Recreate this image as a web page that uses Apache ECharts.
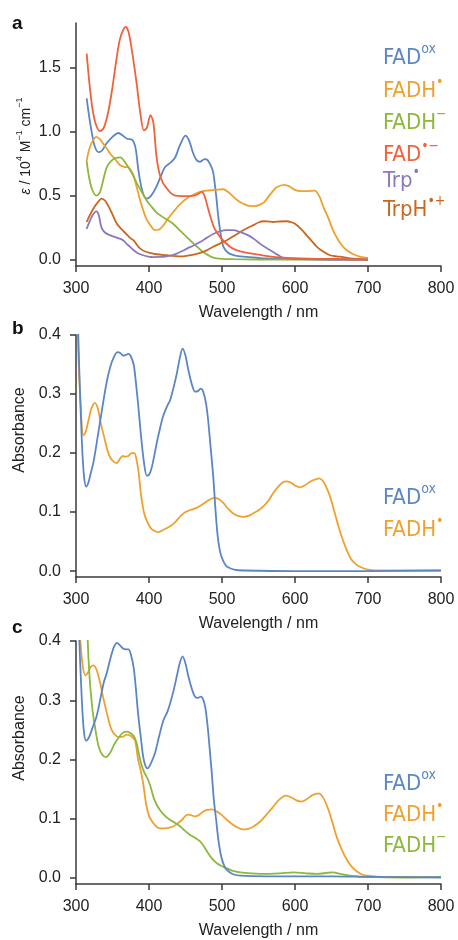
<!DOCTYPE html>
<html>
<head>
<meta charset="utf-8">
<script src="https://cdn.jsdelivr.net/npm/echarts@6/dist/echarts.min.js"></script>
<style>
html,body{margin:0;padding:0;background:#fff;}
#chart{width:458px;height:940px;}
</style>
</head>
<body>
<div id="chart"></div>
<script>
// ---------- data (wavelength nm, value) ----------
const xTicks = [300, 400, 500, 600, 700, 800];
const yTicksA = [0, 0.5, 1.0, 1.5];
const yTicksBC = [0, 0.1, 0.2, 0.3, 0.4];

// panel a : epsilon / 10^4 M^-1 cm^-1
const fadOxA = [[314.6,1.26],[318,1.12],[322,0.98],[326,0.88],[331,0.84],[336,0.855],[342,0.91],[350,0.96],[358,0.99],[364,0.97],[370,0.945],[376,0.94],[379,0.92],[382,0.86],[385,0.72],[389,0.58],[393,0.5],[397,0.477],[403,0.5],[410,0.568],[416,0.65],[422,0.724],[430,0.76],[436,0.8],[442,0.89],[450,0.97],[455,0.93],[460,0.84],[465,0.78],[470,0.765],[476,0.785],[480,0.78],[485,0.73],[488,0.68],[492,0.5],[495,0.33],[499,0.17],[502,0.1],[507,0.06],[511,0.045],[520,0.03],[538,0.02],[560,0.01],[600,0.003],[650,0.001],[700,0]];
const fadhRadA = [[314.6,0.77],[318,0.86],[323,0.93],[328,0.96],[333,0.94],[338,0.9],[342,0.87],[348,0.82],[353,0.79],[360,0.74],[366,0.725],[372,0.72],[378,0.67],[383,0.57],[388,0.46],[393,0.37],[397,0.31],[403,0.26],[408,0.23],[414,0.235],[420,0.27],[426,0.32],[433,0.37],[442,0.43],[452,0.48],[462,0.51],[470,0.53],[479,0.54],[490,0.545],[502,0.55],[508,0.53],[514,0.5],[522,0.46],[530,0.435],[537,0.42],[545,0.418],[552,0.43],[558,0.45],[566,0.51],[575,0.565],[586,0.585],[593,0.57],[600,0.545],[608,0.535],[616,0.535],[627,0.54],[633,0.5],[639,0.41],[646,0.32],[652,0.23],[659,0.155],[666,0.1],[673,0.065],[680,0.042],[690,0.022],[700,0.013]];
const fadhAnionA = [[314.6,0.77],[318,0.64],[322,0.55],[328,0.5],[333,0.53],[338,0.64],[342,0.72],[348,0.77],[355,0.795],[361,0.8],[366,0.77],[372,0.72],[378,0.66],[383,0.6],[390,0.53],[397,0.46],[404,0.41],[410,0.37],[417,0.34],[424,0.315],[433,0.28],[442,0.23],[451,0.18],[461,0.125],[468,0.09],[474,0.06],[481,0.035],[488,0.016],[500,0.006],[515,0.003],[550,0.001],[700,0]];
const fadRadAnionA = [[314.6,1.61],[318,1.4],[322,1.2],[327,1.06],[333,1.005],[338,1.03],[344,1.15],[350,1.35],[355,1.55],[360,1.72],[365,1.8],[368,1.82],[372,1.78],[377,1.62],[383,1.38],[388,1.15],[393,1.01],[397,1.03],[402,1.13],[406,1.07],[410,0.82],[414,0.68],[419,0.6],[424,0.56],[430,0.52],[436,0.5],[445,0.497],[455,0.497],[462,0.5],[468,0.515],[472,0.53],[476,0.5],[480,0.42],[485,0.32],[490,0.24],[497,0.18],[505,0.13],[515,0.086],[528,0.06],[543,0.045],[560,0.03],[584,0.016],[620,0.008],[652,0.005],[700,0]];
const trpRadA = [[314.6,0.24],[318,0.29],[323,0.35],[328,0.377],[331,0.35],[335,0.25],[340,0.21],[347,0.19],[354,0.175],[360,0.164],[365,0.15],[369,0.125],[374,0.1],[379,0.073],[385,0.05],[392,0.034],[399,0.024],[406,0.02],[415,0.021],[424,0.026],[431,0.034],[438,0.047],[445,0.065],[452,0.086],[461,0.11],[470,0.138],[479,0.17],[488,0.2],[497,0.22],[506,0.23],[515,0.23],[525,0.215],[534,0.195],[543,0.165],[552,0.125],[561,0.09],[570,0.06],[577,0.035],[584,0.013],[595,0.005],[607,0.003],[650,0.001],[700,0]];
const trphRadCationA = [[314.6,0.294],[320,0.36],[325,0.41],[330,0.45],[335,0.477],[340,0.46],[346,0.4],[351,0.34],[356,0.28],[362,0.24],[369,0.2],[374,0.17],[379,0.15],[384,0.11],[388,0.086],[394,0.065],[401,0.052],[410,0.042],[424,0.034],[436,0.028],[447,0.026],[458,0.035],[470,0.052],[479,0.072],[488,0.1],[497,0.125],[506,0.15],[515,0.18],[525,0.216],[534,0.245],[543,0.27],[550,0.29],[557,0.3],[563,0.298],[570,0.294],[579,0.298],[589,0.3],[595,0.292],[600,0.28],[608,0.24],[616,0.19],[623,0.145],[630,0.1],[638,0.065],[648,0.034],[657,0.025],[666,0.02],[673,0.012],[680,0.008],[690,0.004],[700,0]];

// panel b : absorbance
const fadOxB = [[300,0.55],[304,0.36],[308,0.22],[311,0.16],[314,0.143],[317,0.15],[320,0.165],[324,0.185],[330,0.23],[337,0.284],[342,0.32],[347,0.346],[352,0.363],[357,0.371],[361,0.369],[365,0.365],[368,0.366],[372,0.368],[375,0.364],[379,0.35],[382,0.32],[385,0.284],[389,0.23],[393,0.185],[397,0.162],[400,0.163],[403,0.172],[406,0.188],[412,0.225],[419,0.261],[425,0.28],[429,0.29],[434,0.313],[438,0.334],[442,0.36],[446,0.377],[450,0.365],[454,0.34],[459,0.315],[463,0.304],[467,0.305],[471,0.309],[474,0.305],[478,0.285],[481,0.256],[484,0.215],[488,0.16],[491,0.105],[494,0.06],[497,0.035],[500,0.022],[505,0.01],[509,0.006],[518,0.002],[530,0.001],[600,0],[700,0],[800,0.001]];
const fadhRadB = [[300,0.55],[303,0.38],[306,0.29],[310,0.23],[313,0.235],[317,0.255],[321,0.275],[326,0.285],[330,0.275],[334,0.25],[338,0.23],[343,0.205],[347,0.192],[352,0.185],[356,0.183],[360,0.19],[364,0.195],[368,0.194],[372,0.195],[376,0.2],[380,0.2],[383,0.188],[386,0.165],[389,0.13],[393,0.1],[397,0.085],[403,0.072],[409,0.067],[413,0.066],[420,0.07],[429,0.076],[436,0.083],[443,0.093],[450,0.1],[458,0.104],[465,0.107],[472,0.112],[479,0.118],[486,0.123],[491,0.124],[497,0.121],[502,0.115],[509,0.105],[516,0.097],[523,0.093],[530,0.092],[537,0.094],[543,0.098],[550,0.103],[557,0.11],[564,0.12],[570,0.132],[577,0.143],[583,0.15],[588,0.152],[594,0.15],[600,0.145],[607,0.142],[613,0.145],[619,0.15],[625,0.154],[633,0.157],[638,0.153],[643,0.142],[647,0.13],[652,0.11],[657,0.087],[663,0.062],[670,0.038],[677,0.02],[684,0.011],[691,0.006],[698,0.003],[710,0.001],[750,0.001],[800,0.001]];

// panel c : absorbance
const fadOxC = [[300,0.6],[304,0.42],[308,0.3],[311,0.245],[314,0.232],[318,0.238],[323,0.255],[328,0.272],[333,0.3],[338,0.33],[342,0.345],[347,0.37],[352,0.39],[356,0.397],[360,0.393],[365,0.387],[369,0.386],[372,0.386],[375,0.378],[379,0.355],[382,0.32],[385,0.278],[389,0.235],[392,0.205],[395,0.19],[398,0.185],[402,0.192],[408,0.21],[414,0.24],[420,0.267],[425,0.28],[429,0.295],[434,0.318],[438,0.34],[442,0.362],[446,0.374],[450,0.362],[454,0.34],[459,0.318],[463,0.306],[467,0.304],[471,0.306],[474,0.302],[477,0.289],[480,0.26],[483,0.22],[486,0.177],[489,0.13],[492,0.098],[495,0.065],[499,0.036],[504,0.018],[509,0.011],[516,0.006],[525,0.004],[560,0.003],[650,0.003],[700,0.002],[800,0.001]];
const fadhRadC = [[300,0.6],[305,0.42],[309,0.36],[313,0.342],[317,0.348],[320,0.356],[324,0.359],[328,0.352],[333,0.33],[337,0.306],[342,0.28],[347,0.256],[351,0.245],[356,0.239],[360,0.238],[365,0.239],[369,0.242],[373,0.241],[377,0.238],[381,0.232],[385,0.2],[388,0.185],[392,0.16],[396,0.125],[400,0.105],[405,0.094],[410,0.087],[415,0.084],[422,0.084],[433,0.087],[440,0.093],[445,0.098],[450,0.105],[454,0.107],[458,0.106],[463,0.104],[468,0.106],[474,0.112],[480,0.115],[486,0.116],[492,0.113],[499,0.107],[507,0.098],[515,0.09],[522,0.085],[529,0.082],[536,0.083],[543,0.087],[552,0.095],[561,0.107],[570,0.12],[578,0.132],[588,0.139],[595,0.136],[602,0.131],[609,0.129],[616,0.133],[624,0.14],[632,0.143],[638,0.137],[645,0.118],[651,0.095],[657,0.07],[664,0.048],[671,0.031],[678,0.019],[685,0.011],[692,0.006],[700,0.004],[720,0.002],[800,0.002]];
const fadhAnionC = [[312,0.6],[315,0.44],[318,0.35],[322,0.29],[326,0.255],[331,0.222],[336,0.208],[341,0.204],[347,0.212],[353,0.227],[359,0.238],[364,0.245],[369,0.247],[374,0.245],[379,0.24],[383,0.228],[386,0.21],[390,0.19],[394,0.177],[398,0.168],[402,0.155],[406,0.137],[410,0.125],[415,0.115],[422,0.105],[429,0.098],[436,0.093],[443,0.087],[449,0.08],[456,0.073],[463,0.068],[470,0.062],[476,0.052],[481,0.042],[487,0.032],[493,0.025],[500,0.02],[506,0.017],[515,0.012],[525,0.0095],[540,0.008],[561,0.007],[580,0.008],[598,0.0095],[615,0.008],[630,0.007],[645,0.009],[652,0.0095],[662,0.007],[675,0.004],[698,0.002],[750,0.001],[800,0.002]];

// ---------- styling ----------
const C = {
  fadOx: '#5b86c6',
  fadhRad: '#f0a12d',
  fadhAnion: '#8cb83c',
  fadRadAnion: '#f2613b',
  trpRad: '#8b78bf',
  trphRadCation: '#c8681f'
};
const AX = '#3a3a3a';
const TXT = '#222';
const FONT = "'Liberation Sans', Arial, Helvetica, sans-serif";
const LFONT = "'DejaVu Sans Condensed', 'Liberation Sans', Arial, sans-serif";

const grids = [
  {left: 76, top: 23, width: 365, height: 243},
  {left: 76, top: 335, width: 365, height: 242},
  {left: 76, top: 641, width: 365, height: 244}
];

function xAxisFor(i) {
  return {
    gridIndex: i, type: 'value', min: 300, max: 800, interval: 100,
    axisLine: {show: true, onZero: false, lineStyle: {color: AX, width: 1.5}},
    axisTick: {show: true, length: 6, lineStyle: {color: AX, width: 1.5}},
    axisLabel: {margin: 15, fontSize: 16, color: TXT, fontFamily: FONT},
    splitLine: {show: false},
    name: 'Wavelength / nm', nameLocation: 'middle', nameGap: 39,
    nameTextStyle: {fontSize: 16, color: TXT, fontFamily: FONT}
  };
}
function yAxisFor(i, min, max, ticks) {
  return {
    gridIndex: i, type: 'value', min: min, max: max,
    axisLine: {show: true, onZero: false, lineStyle: {color: AX, width: 1.5}},
    axisTick: {show: true, length: 6, customValues: ticks, lineStyle: {color: AX, width: 1.5}},
    axisLabel: {customValues: ticks, margin: 15, fontSize: 16, color: TXT, fontFamily: FONT,
      formatter: v => Number(v).toFixed(1)},
    splitLine: {show: false}
  };
}
function line(name, data, color, gi) {
  return {
    name: name, type: 'line', data: data, xAxisIndex: gi, yAxisIndex: gi,
    showSymbol: false, symbol: 'none', smooth: 0.3, clip: true,
    lineStyle: {color: color, width: 1.8}, itemStyle: {color: color},
    emphasis: {disabled: true}, animation: false
  };
}

const legendRich = {
  m: {fontSize: 22, lineHeight: 31, fontFamily: LFONT, verticalAlign: 'middle'},
  s: {fontSize: 14, lineHeight: 12, fontFamily: LFONT, verticalAlign: 'top'}
};
function legendText(y, main, sup, color) {
  const rich = {
    m: Object.assign({}, legendRich.m, {fill: color}),
    s: Object.assign({}, legendRich.s, {fill: color})
  };
  return {
    type: 'text', x: 383, y: y,
    style: {text: '{m|' + main + '}{s|' + sup + '}', rich: rich, align: 'left', verticalAlign: 'middle', fill: color}
  };
}
function panelLabel(x, y, t) {
  return {type: 'text', x: x, y: y,
    style: {text: t, fontSize: 19, fontWeight: 'bold', fontFamily: FONT, fill: '#111', align: 'left', verticalAlign: 'middle'}};
}
function yName(x, y, text, rich) {
  return {type: 'text', x: x, y: y, rotation: Math.PI / 2,
    style: {text: text, rich: rich, fontSize: 16, fontFamily: FONT, fill: TXT, align: 'center', verticalAlign: 'middle'}};
}

const epsRich = {
  n: {fontSize: 14, fontFamily: FONT, fill: TXT, verticalAlign: 'bottom', lineHeight: 18},
  i: {fontSize: 14, fontFamily: FONT, fontStyle: 'italic', fill: TXT, verticalAlign: 'bottom', lineHeight: 18},
  p: {fontSize: 9, fontFamily: FONT, fill: TXT, verticalAlign: 'top', lineHeight: 9}
};

const option = {
  animation: false,
  backgroundColor: '#fff',
  grid: grids,
  xAxis: [xAxisFor(0), xAxisFor(1), xAxisFor(2)],
  yAxis: [
    yAxisFor(0, -0.05, 1.85, yTicksA),
    yAxisFor(1, -0.01, 0.4, yTicksBC),
    yAxisFor(2, -0.01, 0.4, yTicksBC)
  ],
  series: [
    line('FADox', fadOxA, C.fadOx, 0),
    line('FADH•', fadhRadA, C.fadhRad, 0),
    line('FADH−', fadhAnionA, C.fadhAnion, 0),
    line('TrpH•+', trphRadCationA, C.trphRadCation, 0),
    line('Trp•', trpRadA, C.trpRad, 0),
    line('FAD•−', fadRadAnionA, C.fadRadAnion, 0),
    line('FADH•', fadhRadB, C.fadhRad, 1),
    line('FADox', fadOxB, C.fadOx, 1),
    line('FADH•', fadhRadC, C.fadhRad, 2),
    line('FADH−', fadhAnionC, C.fadhAnion, 2),
    line('FADox', fadOxC, C.fadOx, 2)
  ],
  graphic: [
    panelLabel(12, 24, 'a'),
    panelLabel(12, 329, 'b'),
    panelLabel(12, 628, 'c'),
    yName(24, 146, '{i|ε}{n| / 10}{p|4}{n| M}{p|−1}{n| cm}{p|−1}', epsRich),
    yName(20, 430, 'Absorbance', null),
    yName(20, 738, 'Absorbance', null),
    legendText(58, 'FAD', 'ox', C.fadOx),
    legendText(91, 'FADH', '•', C.fadhRad),
    legendText(123, 'FADH', '−', C.fadhAnion),
    legendText(155, 'FAD', '•−', C.fadRadAnion),
    legendText(181, 'Trp', '•', C.trpRad),
    legendText(210, 'TrpH', '•+', C.trphRadCation),
    legendText(498, 'FAD', 'ox', C.fadOx),
    legendText(530, 'FADH', '•', C.fadhRad),
    legendText(784, 'FAD', 'ox', C.fadOx),
    legendText(815, 'FADH', '•', C.fadhRad),
    legendText(846, 'FADH', '−', C.fadhAnion)
  ]
};

const chart = echarts.init(document.getElementById('chart'), null, {renderer: 'canvas'});
chart.setOption(option);
</script>
</body>
</html>
